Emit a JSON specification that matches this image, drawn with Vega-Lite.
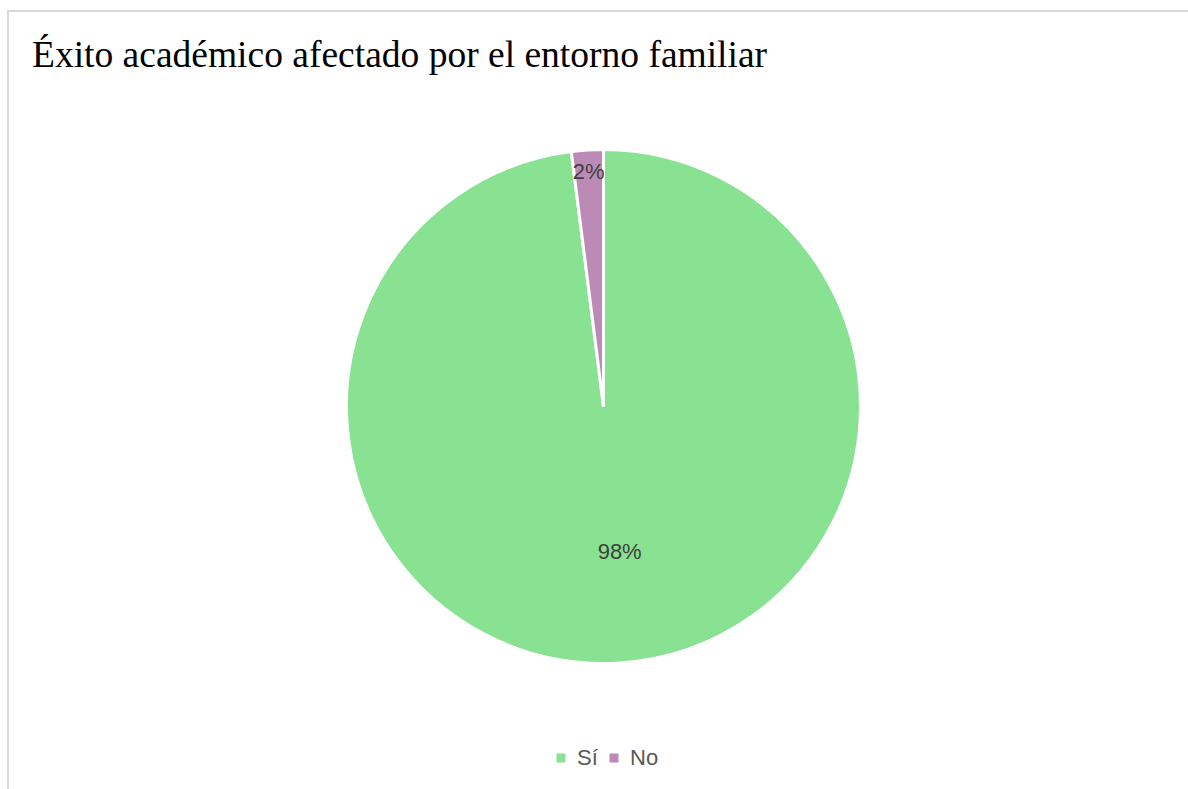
{
  "$schema": "https://vega.github.io/schema/vega-lite/v6.json",
  "autosize": "none",
  "width": 1191,
  "height": 791,
  "padding": {"left": 8, "top": 11, "right": 0, "bottom": 0},
  "background": "white",
  "view": {"stroke": "#d9d9d9", "strokeWidth": 2, "fill": "white"},
  "title": {
    "text": "Éxito académico afectado por el entorno familiar",
    "anchor": "start",
    "frame": "group",
    "orient": "top",
    "baseline": "alphabetic",
    "offset": -56,
    "dx": 24,
    "dy": 37,
    "font": "Liberation Serif",
    "fontSize": 37.5,
    "fontWeight": "normal",
    "color": "#000000"
  },
  "data": {
    "values": [
      {"respuesta": "Sí", "valor": 98, "etiqueta": "98%"},
      {"respuesta": "No", "valor": 2, "etiqueta": "2%"}
    ]
  },
  "encoding": {
    "theta": {"field": "valor", "type": "quantitative", "stack": true},
    "order": {"field": "valor", "type": "quantitative", "sort": "descending"}
  },
  "layer": [
    {
      "mark": {"type": "arc", "outerRadius": 257, "stroke": "white", "strokeWidth": 3},
      "encoding": {
        "color": {
          "field": "respuesta",
          "type": "nominal",
          "scale": {"domain": ["Sí", "No"], "range": ["#88e291", "#bc8ab6"]},
          "legend": {
            "title": null,
            "orient": "none",
            "legendX": 542,
            "legendY": 736,
            "direction": "horizontal",
            "symbolType": "square",
            "symbolSize": 81,
            "symbolStrokeWidth": 0,
            "labelFont": "Liberation Sans",
            "labelFontSize": 22,
            "labelColor": "#595959",
            "labelOffset": 5,
            "columnPadding": 5
          }
        }
      }
    },
    {
      "mark": {"type": "text", "radius": 146, "dx": 7, "font": "Liberation Sans", "fontSize": 22, "color": "#404040"},
      "encoding": {
        "text": {"condition": {"test": "datum.respuesta === 'Sí'", "field": "etiqueta"}, "value": ""}
      }
    },
    {
      "mark": {"type": "text", "radius": 235, "font": "Liberation Sans", "fontSize": 22, "color": "#404040"},
      "encoding": {
        "text": {"condition": {"test": "datum.respuesta === 'No'", "field": "etiqueta"}, "value": ""}
      }
    }
  ]
}
